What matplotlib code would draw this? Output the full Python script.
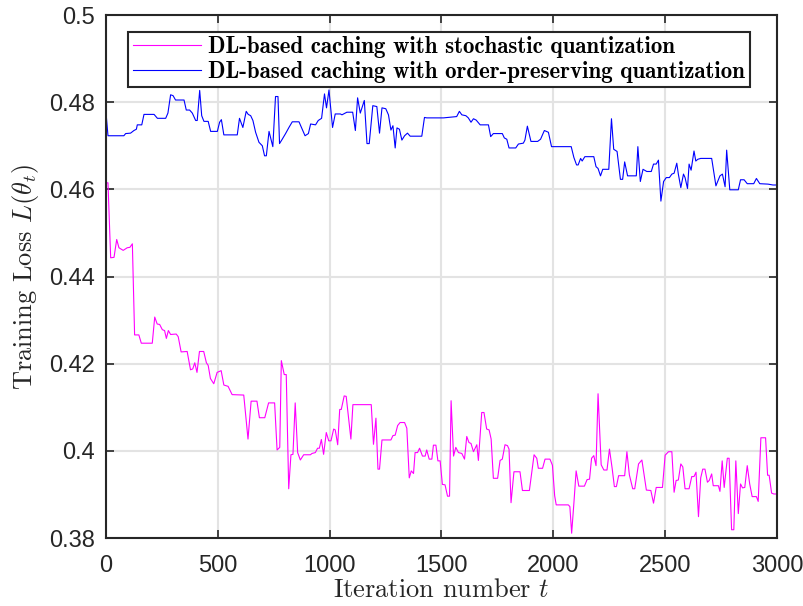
import matplotlib
matplotlib.use("Agg")
import matplotlib.pyplot as plt

# iteration / loss pairs
stoch_t = [0, 9, 21, 36, 48, 58, 77, 95, 107, 118, 128, 147, 158, 207, 218, 229, 240,
           252, 262, 270, 279, 289, 314, 323, 336, 363, 378, 388, 397, 407, 418, 437,
           449, 457, 467, 482, 497, 515, 527, 546, 564, 616, 635, 649, 675, 686, 710,
           727, 754, 765, 777, 784, 797, 806, 817, 827, 836, 846, 857, 869, 884, 914,
           921, 936, 946, 954, 963, 973, 985, 996, 1006, 1018, 1025, 1036, 1045, 1052,
           1065, 1074, 1095, 1104, 1186, 1196, 1207, 1216, 1223, 1234, 1274, 1283, 1293,
           1304, 1315, 1335, 1345, 1356, 1365, 1375, 1382, 1393, 1402, 1415, 1427, 1434,
           1445, 1457, 1464, 1475, 1484, 1494, 1504, 1516, 1527, 1536, 1543, 1554, 1564,
           1576, 1591, 1603, 1613, 1623, 1632, 1643, 1658, 1665, 1680, 1690, 1702, 1713,
           1722, 1732, 1751, 1762, 1772, 1784, 1795, 1802, 1811, 1824, 1851, 1862, 1893,
           1914, 1926, 1933, 1952, 1963, 1975, 1985, 1996, 2006, 2013, 2067, 2074, 2082,
           2092, 2102, 2114, 2139, 2151, 2162, 2171, 2181, 2191, 2200, 2214, 2226, 2240,
           2251, 2263, 2273, 2282, 2292, 2319, 2329, 2340, 2355, 2364, 2374, 2381, 2396,
           2416, 2436, 2448, 2460, 2488, 2500, 2515, 2530, 2540, 2549, 2559, 2570, 2579,
           2589, 2607, 2619, 2629, 2638, 2649, 2659, 2668, 2678, 2689, 2697, 2708, 2715,
           2738, 2745, 2755, 2764, 2778, 2786, 2797, 2807, 2816, 2827, 2837, 2846, 2856,
           2867, 2878, 2889, 2908, 2916, 2928, 2949, 2958, 2965, 2976, 2986, 3000]
stoch_loss = [0.4615, 0.4615, 0.4443, 0.4444, 0.4485, 0.4466, 0.4460, 0.4466, 0.4467,
              0.4475, 0.4266, 0.4266, 0.4247, 0.4247, 0.4307, 0.4291, 0.4290, 0.4278,
              0.4276, 0.4258, 0.4276, 0.4267, 0.4268, 0.4262, 0.4227, 0.4228, 0.4186,
              0.4188, 0.4202, 0.4180, 0.4228, 0.4228, 0.4202, 0.4196, 0.4166, 0.4154,
              0.4180, 0.4184, 0.4151, 0.4148, 0.4129, 0.4128, 0.4027, 0.4114, 0.4114,
              0.4076, 0.4076, 0.4110, 0.4110, 0.4002, 0.4008, 0.4207, 0.4175, 0.4175,
              0.3913, 0.3991, 0.3992, 0.4110, 0.3996, 0.3979, 0.3991, 0.3991, 0.3994,
              0.3996, 0.4006, 0.4006, 0.4026, 0.3992, 0.4042, 0.4023, 0.4023, 0.4050,
              0.4048, 0.4014, 0.4095, 0.4095, 0.4126, 0.4125, 0.4027, 0.4106, 0.4106,
              0.4015, 0.4075, 0.3958, 0.3958, 0.4025, 0.4025, 0.4035, 0.4036, 0.4058,
              0.4065, 0.4065, 0.4052, 0.3938, 0.3954, 0.3948, 0.3996, 0.3996, 0.4006,
              0.3988, 0.3988, 0.4002, 0.3981, 0.3981, 0.4013, 0.4013, 0.3977, 0.3977,
              0.3923, 0.3922, 0.3896, 0.3896, 0.4115, 0.3988, 0.4008, 0.3996, 0.3994,
              0.3981, 0.4033, 0.4019, 0.4017, 0.3998, 0.4014, 0.3978, 0.4088, 0.4088,
              0.4050, 0.4048, 0.4027, 0.3937, 0.3937, 0.3978, 0.3981, 0.4014, 0.4012,
              0.4004, 0.3881, 0.3952, 0.3952, 0.3909, 0.3909, 0.3991, 0.3983, 0.3960,
              0.3960, 0.3981, 0.3981, 0.3981, 0.3967, 0.3897, 0.3876, 0.3876, 0.3872,
              0.3811, 0.3880, 0.3954, 0.3919, 0.3919, 0.3934, 0.3935, 0.3983, 0.3989,
              0.3966, 0.4131, 0.3968, 0.3956, 0.3956, 0.4004, 0.3960, 0.3918, 0.3918,
              0.3943, 0.3943, 0.3998, 0.3945, 0.3913, 0.3913, 0.3947, 0.3970, 0.3979,
              0.3910, 0.3909, 0.3880, 0.3916, 0.3916, 0.3990, 0.3998, 0.3998, 0.3905,
              0.3932, 0.3933, 0.3970, 0.3963, 0.3913, 0.3913, 0.3941, 0.3941, 0.3951,
              0.3849, 0.3938, 0.3958, 0.3958, 0.3928, 0.3932, 0.3947, 0.3920, 0.3920,
              0.3907, 0.3977, 0.3916, 0.3983, 0.3983, 0.3819, 0.3819, 0.3977, 0.3856,
              0.3924, 0.3915, 0.3916, 0.3966, 0.3924, 0.3895, 0.3895, 0.3884, 0.4030,
              0.4030, 0.3944, 0.3944, 0.3903, 0.3901, 0.3901]

order_t = [0, 9, 80, 88, 110, 125, 136, 140, 160, 170, 215, 230, 267, 277, 289, 300, 311,
           349, 359, 374, 386, 401, 408, 419, 428, 438, 457, 468, 498, 508, 516, 527, 587,
           597, 612, 627, 636, 647, 657, 669, 684, 699, 709, 717, 729, 746, 758, 769, 776,
           788, 803, 818, 833, 863, 878, 890, 905, 915, 937, 949, 964, 977, 986, 997,
           1013, 1025, 1048, 1055, 1077, 1103, 1115, 1125, 1137, 1155, 1167, 1177, 1193,
           1211, 1223, 1234, 1251, 1263, 1274, 1283, 1293, 1301, 1312, 1323, 1335, 1348,
           1360, 1412, 1424, 1434, 1509, 1568, 1580, 1591, 1609, 1620, 1632, 1643, 1655,
           1673, 1710, 1720, 1732, 1772, 1781, 1792, 1802, 1832, 1844, 1866, 1873, 1884,
           1900, 1930, 1943, 1960, 1978, 1992, 2080, 2092, 2104, 2111, 2122, 2129, 2141,
           2181, 2191, 2200, 2211, 2221, 2248, 2260, 2270, 2285, 2300, 2310, 2319, 2332,
           2371, 2378, 2389, 2401, 2418, 2438, 2448, 2460, 2470, 2481, 2493, 2505, 2519,
           2530, 2540, 2552, 2559, 2570, 2582, 2589, 2600, 2607, 2616, 2629, 2637, 2646,
           2659, 2708, 2727, 2745, 2756, 2768, 2775, 2789, 2827, 2837, 2853, 2867, 2896,
           2908, 2923, 2960, 2982, 3000]
order_loss = [0.4777, 0.4723, 0.4723, 0.4728, 0.4729, 0.4735, 0.4738, 0.4748, 0.4748,
              0.4772, 0.4772, 0.4763, 0.4763, 0.4775, 0.4817, 0.4815, 0.4805, 0.4805,
              0.4782, 0.4782, 0.4775, 0.4758, 0.4758, 0.4827, 0.4769, 0.4756, 0.4756,
              0.4733, 0.4733, 0.4754, 0.4760, 0.4725, 0.4725, 0.4763, 0.4742, 0.4779,
              0.4772, 0.4769, 0.4758, 0.4731, 0.4708, 0.4700, 0.4677, 0.4677, 0.4733,
              0.4698, 0.4813, 0.4813, 0.4705, 0.4715, 0.4728, 0.4742, 0.4755, 0.4755,
              0.4737, 0.4723, 0.4728, 0.4750, 0.4748, 0.4758, 0.4763, 0.4819, 0.4787,
              0.4828, 0.4742, 0.4773, 0.4773, 0.4771, 0.4777, 0.4777, 0.4735, 0.4810,
              0.4775, 0.4804, 0.4705, 0.4705, 0.4792, 0.4790, 0.4729, 0.4787, 0.4785,
              0.4771, 0.4736, 0.4746, 0.4695, 0.4741, 0.4738, 0.4713, 0.4723, 0.4729,
              0.4722, 0.4722, 0.4765, 0.4764, 0.4764, 0.4767, 0.4779, 0.4771, 0.4769,
              0.4764, 0.4754, 0.4762, 0.4759, 0.4748, 0.4748, 0.4721, 0.4728, 0.4728,
              0.4718, 0.4715, 0.4695, 0.4695, 0.4704, 0.4706, 0.4713, 0.4745, 0.4710,
              0.4710, 0.4715, 0.4735, 0.4731, 0.4698, 0.4698, 0.4673, 0.4656, 0.4656,
              0.4671, 0.4665, 0.4675, 0.4675, 0.4652, 0.4648, 0.4631, 0.4646, 0.4646,
              0.4762, 0.4692, 0.4687, 0.4623, 0.4623, 0.4663, 0.4631, 0.4631, 0.4698,
              0.4618, 0.4646, 0.4641, 0.4641, 0.4658, 0.4658, 0.4667, 0.4573, 0.4618,
              0.4627, 0.4627, 0.4635, 0.4637, 0.4660, 0.4635, 0.4604, 0.4635, 0.4627,
              0.4602, 0.4658, 0.4644, 0.4688, 0.4665, 0.4669, 0.4671, 0.4671, 0.4608,
              0.4631, 0.4635, 0.4606, 0.4690, 0.4599, 0.4599, 0.4622, 0.4622, 0.4613,
              0.4613, 0.4625, 0.4613, 0.4612, 0.4610, 0.4610]

x_ticks = [0, 500, 1000, 1500, 2000, 2500, 3000]
y_ticks = [0.38, 0.4, 0.42, 0.44, 0.46, 0.48, 0.5]
y_tick_labels = ["0.38", "0.4", "0.42", "0.44", "0.46", "0.48", "0.5"]

plt.rcParams['mathtext.fontset'] = 'cm'
plt.rcParams['font.family'] = 'Liberation Sans'

fig = plt.figure(figsize=(8.04, 6.06), dpi=100)
ax = fig.add_axes([0.1318, 0.1122, 0.8346, 0.863])

ax.plot(stoch_t, stoch_loss, color='#ff00ff', lw=0.8,
        label='DL-based caching with stochastic quantization')
ax.plot(order_t, order_loss, color='#0000ff', lw=0.8,
        label='DL-based caching with order-preserving quantization')

ax.set_xlim(0, 3000)
ax.set_ylim(0.38, 0.5)
ax.set_xticks(x_ticks)
ax.set_yticks(y_ticks)
ax.set_yticklabels(y_tick_labels)
ax.tick_params(direction='in', length=6, width=1.2, labelsize=17, top=True, right=True,
               colors='#262626')
ax.tick_params(axis='x', pad=12.5)
ax.tick_params(axis='y', pad=8)
ax.grid(True, color='#e3e3e3', lw=1.5)
ax.set_axisbelow(True)
for s in ax.spines.values():
    s.set_linewidth(1.5)
    s.set_color('#262626')

ax.set_xlabel('Iteration number $t$', family='cmr10', fontsize=19, color='#262626',
              labelpad=1)
ax.set_ylabel(r'Training Loss $L(\theta_t)$', family='cmr10', fontsize=19, color='#262626',
              labelpad=6)

leg = ax.legend(loc='upper left', bbox_to_anchor=(0.033, 0.968), fancybox=False,
                framealpha=1, edgecolor='#262626', handlelength=3.0, handletextpad=0.3,
                borderpad=0.2, labelspacing=0.1, borderaxespad=0,
                prop={'family': 'cmb10', 'size': 16.5})
leg.get_frame().set_linewidth(1.5)

fig.savefig('out.png', dpi=100)
